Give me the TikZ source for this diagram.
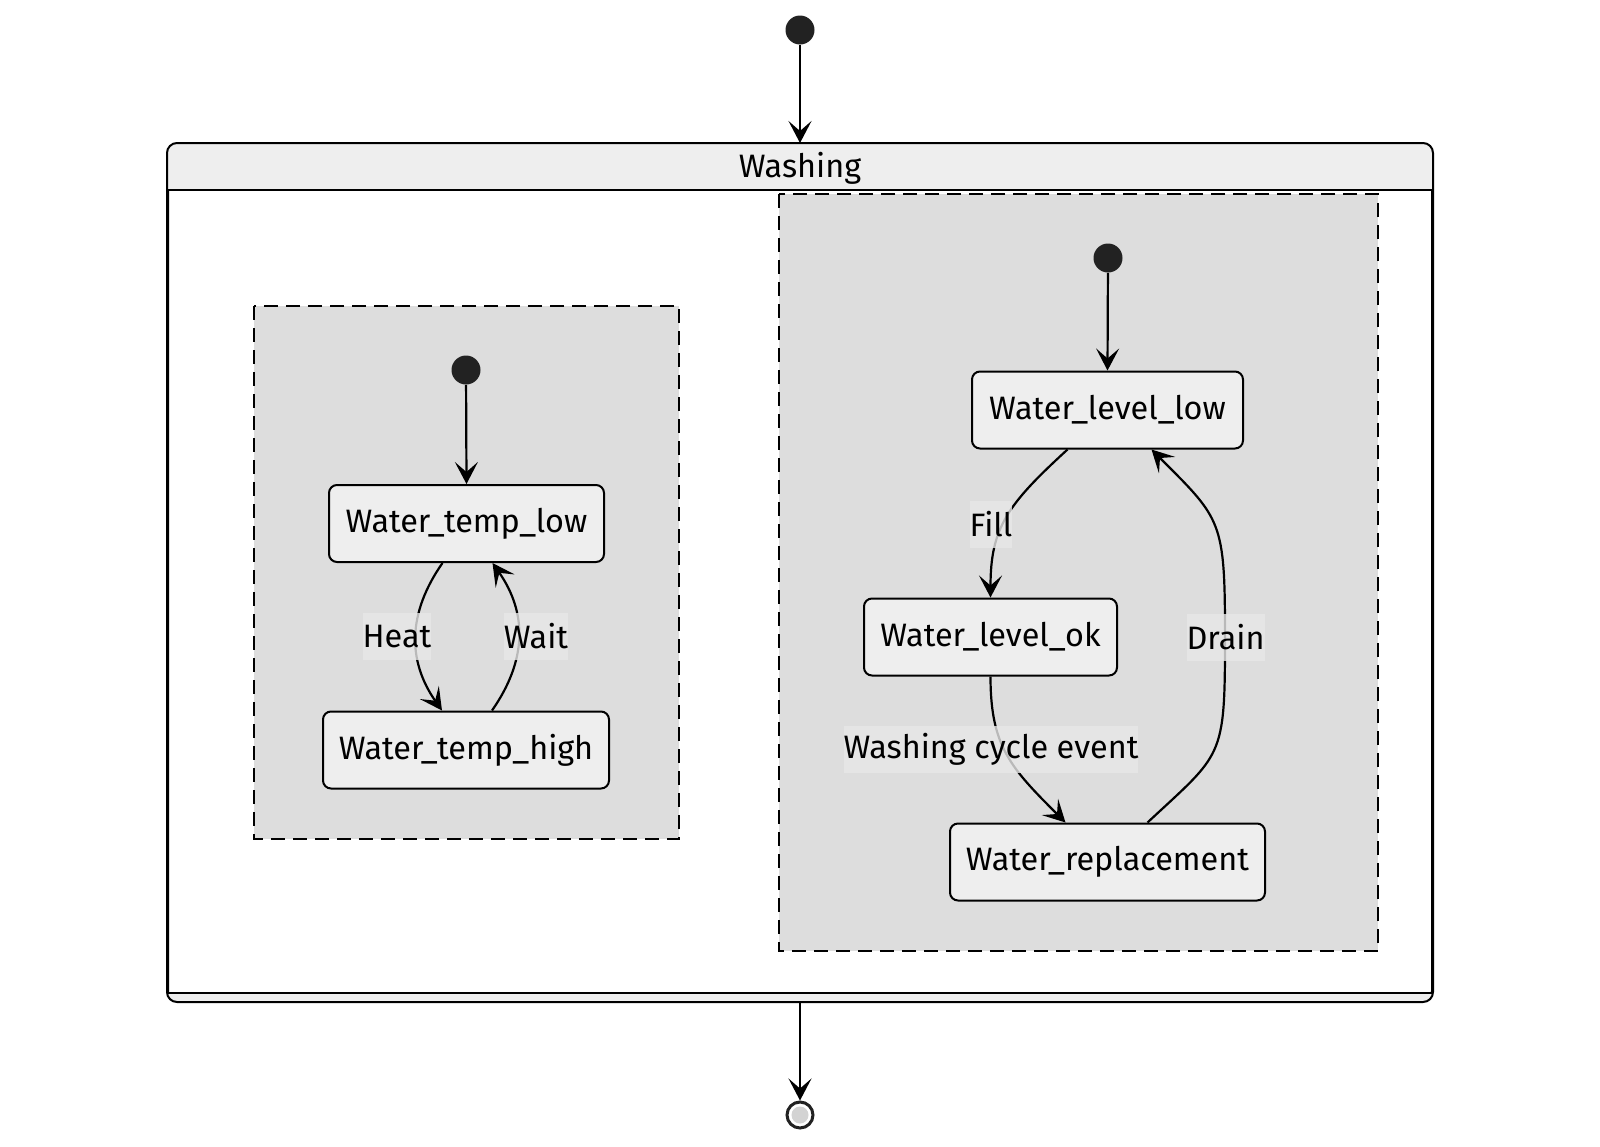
\documentclass[tikz,border=0pt]{standalone}
\usepackage{fontspec}
\setmainfont{Fira Sans}
\usetikzlibrary{arrows.meta}
\definecolor{statefill}{HTML}{EEEEEE}
\definecolor{regionfill}{HTML}{DDDDDD}
\definecolor{dotfill}{HTML}{222222}
\definecolor{labelfill}{HTML}{E8E8E8}
\definecolor{endfill}{HTML}{D3D3D3}
\begin{document}
\begin{tikzpicture}[x=0.5pt, y=-0.5pt, font=\fontsize{16.2}{19}\selectfont,
    state/.style={draw, line width=1pt, rounded corners=4pt, fill=statefill, minimum height=38.5pt},
    startdot/.style={circle, fill=dotfill, minimum size=14.5pt, inner sep=0pt},
    tlabel/.style={fill=labelfill, fill opacity=0.8, text opacity=1, inner xsep=0pt, minimum height=23.5pt},
    region/.style={draw, line width=0.9pt, dash pattern=on 7pt off 4pt, fill=regionfill},
    trans/.style={-{Stealth[length=11pt, width=11.5pt, inset=5pt]}, line width=1.1pt}]
    \useasboundingbox (0, 0) rectangle (1600, 1146);

    % outer composite state
    \node[draw, line width=1pt, rounded corners=5pt, fill=white, minimum width=632pt, minimum height=428.5pt] at (800, 572.5) (washing) {};
    \begin{scope}
        \clip[rounded corners=5pt] (washing.north west) rectangle (washing.south east);
        \fill[statefill] (168, 144) rectangle (1432, 190);
        \fill[statefill] (168, 993) rectangle (1432, 1001);
    \end{scope}
    \draw[line width=1pt, rounded corners=5pt] (washing.north west) rectangle (washing.south east);
    \draw[line width=1pt] (168, 190) -- (1432, 190);
    \draw[line width=1pt] (168, 993) -- (1432, 993);
    \node at (800, 168) (washhead) {Washing};

    % concurrent regions
    \path[region] (254, 306) rectangle (679, 839);
    \path[region] (779, 194) rectangle (1378, 951);

    \node[startdot] at (800, 30) (start) {};
    \node[circle, draw=dotfill, line width=1.5pt, fill=white, minimum size=13pt, inner sep=0pt] at (800, 1115) (finish) {};
    \fill[endfill] (finish) circle (4.25pt);

    \node[startdot] at (466, 370) (tempstart) {};
    \node[state, minimum width=137.5pt] at (466.5, 523.5) (templow) {Water\_temp\_low};
    \node[state, minimum width=143pt] at (466, 750) (temphigh) {Water\_temp\_high};

    \node[startdot] at (1108, 258) (levelstart) {};
    \node[state, minimum width=135.5pt] at (1107.5, 410) (levellow) {Water\_level\_low};
    \node[state, minimum width=126.5pt] at (990.5, 637) (levelok) {Water\_level\_ok};
    \node[state, minimum width=157.5pt] at (1107.5, 862) (replacement) {Water\_replacement};

    \draw[trans] (start) -- (washing.north);
    \draw[trans] (washing.south) -- (finish);
    \draw[trans] (tempstart) -- (templow.north);
    \draw[trans] (levelstart) -- (levellow.north);

    \draw[trans] ([xshift=-12pt]templow.south) .. controls +(-35, 50) and +(-35, -50) .. ([xshift=-12pt]temphigh.north);
    \draw[trans] ([xshift=13pt]temphigh.north) .. controls +(35, -50) and +(35, 50) .. ([xshift=13pt]templow.south);
    \draw[trans] ([xshift=-20pt]levellow.south) .. controls +(-60, 55) and +(0, -70) .. (levelok.north);
    \draw[trans] (levelok.south) .. controls +(0, 70) and +(-55, -55) .. ([xshift=-21pt]replacement.north);
    \coordinate (bend) at (1225, 637);
    \draw[trans] ([xshift=20pt]replacement.north) .. controls +(75, -70) and (1225, 760) .. (bend)
        .. controls (1225, 520) and +(70, 70) .. ([xshift=22pt]levellow.south);

    \node[tlabel] at (397, 636.5) (heat) {Heat};
    \node[tlabel] at (536, 636.5) (wait) {Wait};
    \node[tlabel] at (991, 524) (fill) {Fill};
    \node[tlabel] at (991, 749.5) (cycle) {Washing cycle event};
    \node[tlabel] at (1225.5, 637) (drain) {Drain};
\end{tikzpicture}
\end{document}
